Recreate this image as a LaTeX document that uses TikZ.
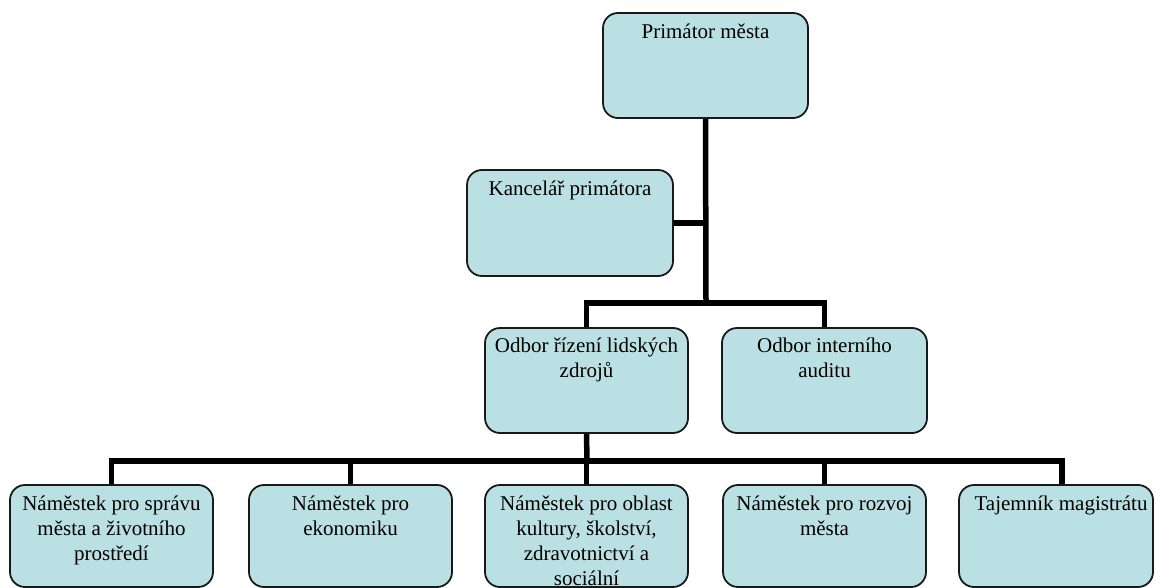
\documentclass[tikz,border=0pt]{standalone}
\usepackage{fontspec}
\setmainfont{Liberation Serif}
\begin{document}
\begin{tikzpicture}[x=1pt,y=-1pt,
  box/.style={draw=black!90, line width=1.8pt, rounded corners=15pt,
    fill=boxfill, inner sep=0pt},
  lbl/.style={anchor=north, align=center, inner sep=0pt,
    font=\fontsize{21}{25}\selectfont},
  conn/.style={line width=5.5pt, black}
]
\definecolor{boxfill}{RGB}{187,224,227}
\useasboundingbox (0,0) rectangle (1155,588);

% boxes of the chart
\node[box, minimum width=205pt, minimum height=105pt] (prim) at (705.5,65.5) {};
\node[box, minimum width=206pt, minimum height=106pt] (kanc) at (570,223) {};
\node[box, minimum width=203pt, minimum height=105pt] (o1) at (586.5,380.5) {};
\node[box, minimum width=205pt, minimum height=105pt] (o2) at (824.5,380.5) {};
\node[box, minimum width=203pt, minimum height=102pt] (n1) at (111.5,536) {};
\node[box, minimum width=203pt, minimum height=102pt] (n2) at (350.5,536) {};
\node[box, minimum width=203pt, minimum height=102pt] (n3) at (586.5,536) {};
\node[box, minimum width=203pt, minimum height=102pt] (n4) at (824.5,536) {};
\node[box, minimum width=194pt, minimum height=102pt] (n5) at (1056,536) {};

% junction points of the connectors
\coordinate (j1) at (706,303);
\coordinate (j2) at (587,461);

% connectors
\draw[conn] (prim.south) -- (j1);
\draw[conn] (kanc.east) -- (kanc.east -| prim.south);
\draw[conn] (o1.north) |- (j1) -| (o2.north);
\draw[conn] (o1.south) -- (j2);
\draw[conn] (n1.north) |- (j2) -| ([xshift=6pt]n5.north);
\draw[conn] (n2.north) -- (n2.north |- j2);
\draw[conn] (n3.north) -- (n3.north |- j2);
\draw[conn] (n4.north) -- (n4.north |- j2);

% labels
\node[lbl] (tprim) at ([yshift=-9pt]prim.north) {\strut Primátor města};
\node[lbl] (tkanc) at ([yshift=-9pt]kanc.north) {\strut Kancelář primátora};
\node[lbl] (to1) at ([yshift=-7.5pt]o1.north) {\strut Odbor řízení lidských\\zdrojů};
\node[lbl] (to2) at ([yshift=-7.5pt]o2.north) {\strut Odbor interního\\auditu};
\node[lbl] (tn1) at ([yshift=-8.5pt]n1.north) {\strut Náměstek pro správu\\města a životního\\prostředí};
\node[lbl] (tn2) at ([yshift=-8.5pt]n2.north) {\strut Náměstek pro\\ekonomiku};
\node[lbl] (tn3) at ([yshift=-8.5pt]n3.north) {\strut Náměstek pro oblast\\kultury, školství,\\zdravotnictví a\\sociální};
\node[lbl] (tn4) at ([yshift=-8.5pt]n4.north) {\strut Náměstek pro rozvoj\\města};
\node[lbl] (tn5) at ([xshift=5pt,yshift=-8.5pt]n5.north) {\strut Tajemník magistrátu};
\end{tikzpicture}
\end{document}
